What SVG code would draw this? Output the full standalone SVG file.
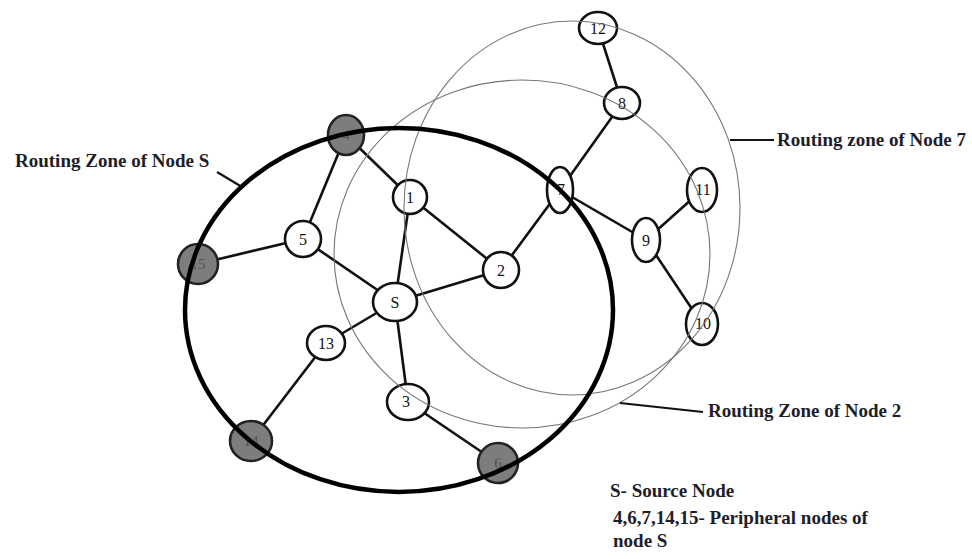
<svg xmlns="http://www.w3.org/2000/svg" width="972" height="559" viewBox="0 0 972 559">
<style>
.edge{stroke:#111;stroke-width:2.6;fill:none;stroke-linecap:round}
.node{fill:#fff;stroke:#111;stroke-width:2.6}
.peri{fill:#7d7d7d;stroke:#222;stroke-width:2.6}
.lbl{font-family:"Liberation Serif",serif;font-size:16px;fill:#111;text-anchor:middle;dominant-baseline:central}
.plbl{font-family:"Liberation Serif",serif;font-size:15px;fill:#555;text-anchor:middle;dominant-baseline:central}
.zone{fill:none;stroke:#777;stroke-width:1.1}
.zoneS{fill:none;stroke:#000;stroke-width:4.5}
.txt{font-family:"Liberation Serif",serif;font-size:19px;font-weight:bold;fill:#1e1e2a}
.ptr{stroke:#111;stroke-width:2.2}
</style>
<rect width="972" height="559" fill="#fff"/>
<g id="connectors">
<line class="edge" x1="346" y1="135" x2="303" y2="239"/>
<line class="edge" x1="346" y1="135" x2="410" y2="197"/>
<line class="edge" x1="410" y1="197" x2="395" y2="302"/>
<line class="edge" x1="410" y1="197" x2="501" y2="270"/>
<line class="edge" x1="303" y1="239" x2="395" y2="302"/>
<line class="edge" x1="501" y1="270" x2="395" y2="302"/>
<line class="edge" x1="501" y1="270" x2="560" y2="190"/>
<line class="edge" x1="560" y1="190" x2="622" y2="103"/>
<line class="edge" x1="622" y1="103" x2="598" y2="28"/>
<line class="edge" x1="560" y1="190" x2="646" y2="240"/>
<line class="edge" x1="646" y1="240" x2="702" y2="190"/>
<line class="edge" x1="646" y1="240" x2="702" y2="324"/>
<line class="edge" x1="198" y1="264" x2="303" y2="239"/>
<line class="edge" x1="395" y1="302" x2="326" y2="343"/>
<line class="edge" x1="326" y1="343" x2="251" y2="441"/>
<line class="edge" x1="395" y1="302" x2="408" y2="402"/>
<line class="edge" x1="408" y1="402" x2="498" y2="463"/>
</g>
<g id="node-12"><ellipse class="node" cx="598" cy="28" rx="19" ry="16"/><text class="lbl" x="598" y="28">12</text></g>
<g id="node-8"><ellipse class="node" cx="622" cy="103" rx="18" ry="16"/><text class="lbl" x="622" y="103">8</text></g>
<g id="node-7"><ellipse class="node" cx="560" cy="190" rx="13" ry="23"/><text class="lbl" x="561" y="189">7</text></g>
<g id="node-11"><ellipse class="node" cx="702" cy="190" rx="15" ry="22"/><text class="lbl" x="703" y="189">11</text></g>
<g id="node-9"><ellipse class="node" cx="646" cy="240" rx="14" ry="22"/><text class="lbl" x="646" y="240">9</text></g>
<g id="node-10"><ellipse class="node" cx="702" cy="324" rx="16" ry="21"/><text class="lbl" x="703" y="323">10</text></g>
<g id="node-1"><ellipse class="node" cx="410" cy="197" rx="17" ry="17"/><text class="lbl" x="410" y="197">1</text></g>
<g id="node-2"><ellipse class="node" cx="501" cy="270" rx="18" ry="18"/><text class="lbl" x="501" y="270">2</text></g>
<g id="node-5"><ellipse class="node" cx="303" cy="239" rx="18" ry="18"/><text class="lbl" x="303" y="239">5</text></g>
<g id="node-S"><ellipse class="node" cx="395" cy="302" rx="22" ry="19"/><text class="lbl" x="395" y="302">S</text></g>
<g id="node-13"><ellipse class="node" cx="326" cy="343" rx="19" ry="17"/><text class="lbl" x="326" y="343">13</text></g>
<g id="node-3"><ellipse class="node" cx="408" cy="402" rx="21" ry="18"/><text class="lbl" x="406" y="401">3</text></g>
<g id="node-4"><ellipse class="peri" cx="346" cy="135" rx="18" ry="20"/><text class="plbl" x="346" y="135">4</text></g>
<g id="node-15"><ellipse class="peri" cx="198" cy="264" rx="20" ry="20"/><text class="plbl" x="198" y="264">15</text></g>
<g id="node-14"><ellipse class="peri" cx="251" cy="441" rx="21" ry="20"/><text class="plbl" x="251" y="441">14</text></g>
<g id="node-6"><ellipse class="peri" cx="498" cy="463" rx="20" ry="20"/><text class="plbl" x="498" y="463">6</text></g>
<g id="zones">
<ellipse class="zone" cx="572" cy="208" rx="168" ry="187"/>
<ellipse class="zone" cx="522" cy="254" rx="188" ry="174"/>
<ellipse class="zoneS" cx="399" cy="310" rx="214" ry="182"/>
</g>
<g id="labels">
<line class="ptr" x1="217" y1="172" x2="242" y2="187"/>
<text class="txt" x="15" y="167">Routing Zone of Node S</text>
<line class="ptr" x1="730" y1="140" x2="774" y2="140"/>
<text class="txt" x="777" y="146">Routing zone of Node 7</text>
<line class="ptr" x1="620" y1="403" x2="703" y2="412"/>
<text class="txt" x="708" y="417">Routing Zone of Node 2</text>
<text class="txt" x="610" y="497">S- Source Node</text>
<text class="txt" x="613" y="524">4,6,7,14,15- Peripheral nodes of</text>
<text class="txt" x="613" y="547">node S</text>
</g>
</svg>
